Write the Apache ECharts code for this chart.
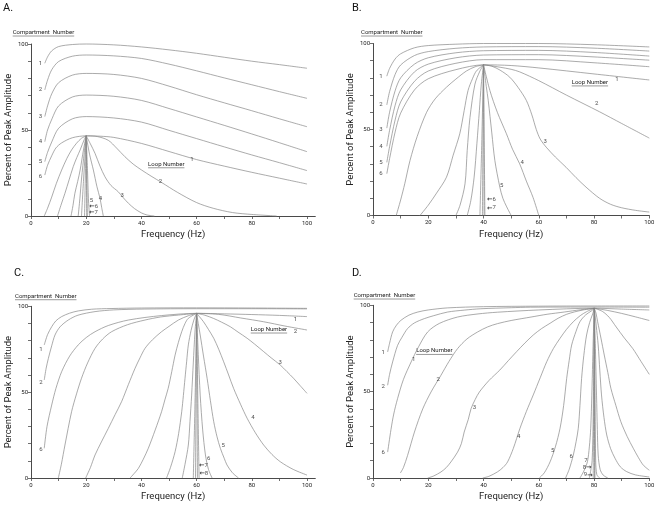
<!DOCTYPE html>
<html><head><meta charset="utf-8">
<script src="https://cdn.jsdelivr.net/npm/echarts@6/dist/echarts.min.js"></script>
<style>html,body{margin:0;padding:0;background:#fff}#c{width:662px;height:505px}</style>
</head><body><div id="c"></div>
<script>
// ---------- tick labels ----------
const xTickValues = [0,10,20,30,40,50,60,70,80,90,100];
const xLabelValues = [0,20,40,60,80,100];
const yLabelValues = [0,50,100];
const panelTitles = ['A.','B.','C.','D.'];

// ---------- Panel A (peak at 20 Hz) ----------
const compsA = [
 [[5,88.8],[6,92.5],[7.5,96],[10,98.5],[15,99.7],[20,100],[30,99.5],[40,98.3],[50,96.6],[60,94.6],[70,92.3],[80,90],[90,88],[100,85.9]],
 [[5,73.3],[6,79],[7.5,85],[10,89.8],[15,92.9],[20,93.6],[30,93.1],[40,91.6],[50,88.3],[60,84.4],[70,80.3],[80,76.3],[90,72.3],[100,68.4]],
 [[5,57.8],[6,64],[7.5,71],[10,77.5],[15,81.9],[20,82.9],[30,82.3],[40,80],[50,75.5],[60,70.5],[70,65.8],[80,61.2],[90,56.5],[100,51.9]],
 [[5,43.2],[6,50],[7.6,56.5],[10,64],[15,69.2],[20,70.3],[30,69.6],[40,67.2],[50,62.5],[60,57.6],[70,52.7],[80,47.7],[90,42.6],[100,37.4]],
 [[5,31.6],[6,37],[7.5,43],[10,51],[15,56.5],[20,57.8],[30,57],[40,54.6],[50,49.8],[60,45],[70,40.2],[80,35.5],[90,31],[100,26.4]]
];
const loop1A = [[5,23.8],[6,29.5],[7.5,35],[9,39.5],[11.1,42.5],[15,45.5],[20,46.6],[25,46.4],[30,45.7],[40,42.2],[50,37.5],[60,32.8],[70,29],[80,25.4],[90,22],[100,18.6]];
const loopsALeft = [
 [[4.8,0],[6,4.5],[7.5,11],[9.2,19],[11.1,26.7],[13,33.5],[14.7,38.4],[16.5,42.3],[18.3,45.2],[20,46.6]],
 [[9.6,0],[11,7],[12.3,13.2],[13.8,21],[15.3,28.7],[16.6,34],[17.8,38.4],[19.3,44.5],[20,46.6]],
 [[14.5,0],[15.2,6],[15.9,13.2],[16.9,20],[17.8,26.7],[19,38.4],[20,46.6]],
 [[17.1,0],[17.7,10],[18.3,21.5],[19.3,37],[20,46.6]],
 [[18.3,0],[19,20],[19.7,38],[20,46.6]],
 [[19.4,0],[20,46.6]]
];
const loopsARight = [
 [[20,46.6],[24,46.2],[28,44],[31,39.5],[34,34.5],[37,30.2],[40,26.8],[43.5,23.2],[47.3,19.5],[53,13.8],[60,7.8],[66,4.5],[73,2],[80,0.9],[89,0]],
 [[20,46.6],[21.5,42],[23.2,36.4],[25,29],[26.8,22.8],[29,17.7],[31.6,14.1],[33.5,10.5],[35.3,7.4],[37.5,4.3],[40,1.8],[42,0.6],[44.7,0]],
 [[20,46.6],[21.2,36],[22.6,26.7],[23.9,17],[25,10.3],[25.6,5],[26.2,0]],
 [[20,46.6],[20.5,25],[20.8,10],[21.2,0]],
 [[20,46.6],[20.4,0]],
 [[20,46.6],[20.2,0]]
];
const compLabelsA = [[3.4,88.8,'1'],[3.4,73.6,'2'],[3.4,57.8,'3'],[3.4,43.4,'4'],[3.4,31.8,'5'],[3.4,22.9,'6']];
const loopLabelsA = [[58.3,32.6,'1'],[46.9,20,'2'],[33,12.2,'3'],[25.2,9.9,'4'],[21.9,9.3,'5'],[22.7,5.4,'{a|←}6'],[22.6,2.3,'{a|←}7']];
const loopTitleA = [49, 30.2];

// ---------- Panel B (peak at 40 Hz) ----------
const compsB = [
 [[5,81],[6,85.5],[8,91],[10,94],[15,97.5],[20,98.8],[30,99.6],[40,100],[60,100],[80,99.3],[100,98]],
 [[5,64.3],[6,72],[8,82],[10,87.5],[15,93],[20,95.3],[30,97.2],[40,98],[60,98.2],[80,97.3],[100,95.6]],
 [[5,50.8],[6,60],[8,72.5],[10,80],[15,88],[20,91.7],[30,94.6],[40,95.8],[60,96],[80,94.8],[100,92.7]],
 [[5,40.2],[6,49.5],[8,64],[10,73],[15,83.5],[20,88],[30,91.7],[40,93.3],[60,93.5],[80,92.2],[100,90.3]],
 [[5,30.9],[6,40],[8,55.5],[10,66],[15,78],[20,84],[30,88.5],[40,90.6],[60,90.6],[80,88.8],[100,86.5]]
];
const loop1B = [[5,24.3],[6,33],[8,48.5],[10,59.5],[15,73],[20,79.5],[30,84.8],[40,87.6],[50,87.2],[60,85.8],[80,82.3],[100,78.8]];
const loopsBLeft = [
 [[8.4,0],[10,9],[11.5,18.5],[13.4,32],[16,46],[19.4,60],[22.5,67.8],[26.6,74.6],[30,79.3],[33.8,84],[37,86.5],[40,87.6]],
 [[17,0],[20,6],[23,13],[26.6,22.3],[29,35],[31.4,47.5],[33,61],[34.4,72.7],[36,79.5],[37.4,84],[40,87.6]],
 [[30,0],[31.5,6],[33.3,18.4],[34.1,37.8],[35.1,57],[36.9,76.4],[38.7,84],[40,87.6]],
 [[34.1,0],[35.4,8.6],[36.6,22.3],[37.6,41.7],[38.5,61],[39.2,76.4],[40,87.6]],
 [[38.7,0],[39.3,37.8],[40,87.6]],
 [[39.6,0],[40,87.6]]
];
const loopsBRight = [
 [[40,87.6],[43,87],[46,86.2],[50,85],[53.1,83.5],[60,78.4],[70,70],[82,60.3],[90,53.5],[100,45]],
 [[40,87.6],[43,86.8],[46,84.5],[49.5,80.4],[52.5,74.5],[55.5,66.9],[57.5,58.5],[59.1,50],[60.5,44.5],[62.7,39.7],[66,34],[69.9,28],[73.5,22],[77.1,16.5],[82,10],[86,6.5],[90,4.5],[95,3],[100,2]],
 [[40,87.6],[42.3,72.7],[45,60],[48.3,47.5],[50.5,38.5],[53.1,30],[55.5,20],[57.9,10.6],[60,0]],
 [[40,87.6],[41,75],[41.7,67],[43,48],[44.1,32],[45.9,16.5],[47,10],[48.4,5],[50,0]],
 [[40,87.6],[40.5,0]],
 [[40,87.6],[40.2,0]]
];
const compLabelsB = [[2.9,81,'1'],[2.9,64.3,'2'],[2.9,50.2,'3'],[2.9,40.2,'4'],[2.9,30.9,'5'],[2.9,24.3,'6']];
const loopLabelsB = [[88.3,78.8,'1'],[81,65.3,'2'],[62.3,43,'3'],[54,30.9,'4'],[46.6,17.6,'5'],[42.9,9.3,'{a|←}6'],[42.9,4.4,'{a|←}7']];
const loopTitleB = [78.5, 77.5];

// ---------- Panel C (peak at 60 Hz) ----------
const compsC = [
 [[4.8,77.5],[6,83.5],[7.5,88.1],[9,91.5],[11.1,94],[14,96],[17.1,97.3],[22,98.3],[29,98.7],[40,99],[60,99.1],[80,99],[100,98.8]],
 [[4.8,57.1],[5.5,64],[6.3,69.7],[7.5,77],[8.7,83.3],[10.5,88],[13.5,92],[17,94.8],[23.2,96.9],[30,97.9],[41,98.4],[60,98.6],[80,98.6],[100,98.5]]
];
const loop1C = [[4.8,17.3],[5.8,30],[7.5,42.5],[9,52],[11.1,61.9],[14,71],[17.1,77.5],[20,81.8],[23.2,85.2],[28,88.8],[35.3,92],[47.3,94.6],[60,95.9],[70,95.6],[80,95.2],[90,94.7],[100,94]];
const loopsCLeft = [
 [[9.9,0],[11,8],[12.3,19.2],[14.7,38.6],[16.5,49],[18.3,58.1],[20.5,67],[23.2,75.5],[26,81],[29.2,85.2],[35,89.3],[41.3,92],[47,93.8],[53.4,94.9],[60,95.9]],
 [[19.8,0],[21.5,6],[23.2,13.4],[25.5,21],[28,28.9],[30.5,37],[32.8,44.4],[35.3,54.5],[37.7,63.9],[39.5,70],[41.3,75.5],[44,80.5],[47.3,85.2],[50,88.3],[53.4,92],[57,94.5],[60,95.9]],
 [[35.9,0],[37.3,2.5],[38.9,5.6],[40.7,11],[42.5,17.3],[45,28],[47.3,38.6],[48.5,45.5],[49.7,52.2],[51,62],[52.2,71.6],[53.4,79],[54.6,85.2],[55.8,90],[57,93],[60,95.9]],
 [[49.1,0],[50.5,6],[52.2,15.3],[53.5,26],[54.6,38.6],[55.2,48],[55.8,58.1],[56.4,68],[57,77.5],[58,86],[59,92],[60,95.9]],
 [[54.8,0],[55.8,8],[57,19.2],[57.6,33],[58.2,48.3],[58.8,67],[59.4,85],[60,95.9]],
 [[58.8,0],[59.5,50],[60,95.9]],
 [[59.6,0],[60,95.9]]
];
const loopsCRight = [
 [[60,95.9],[68,95.3],[76,93.2],[84.3,91],[92,88.5],[100,86.2]],
 [[60,95.9],[63,94.8],[66.2,92.9],[69,90.8],[72.2,88.1],[75,85],[78.3,81.4],[81,78],[84.3,73.6],[87,70],[90.3,65.8],[92.7,62],[95.1,58.1],[97.5,53.8],[100,49.3]],
 [[60,95.9],[61,94],[62.5,91],[64.3,86.5],[66.2,81.4],[68,75],[69.8,67.7],[71.6,60],[73.4,52.2],[75.9,43],[78.3,34.8],[81.3,26.3],[84.3,19.2],[87.3,13.7],[90.3,9.5],[95,5],[100,1.7]],
 [[60,95.9],[60.6,90],[61.3,83.3],[62.5,71],[63.8,58.1],[65,45],[66.2,32.8],[67.4,24],[68.6,17.3],[70,11.5],[71,7.6],[73,3],[75.2,0]],
 [[60,95.9],[60.6,72],[61.3,48.3],[62.2,28],[63.2,13.4],[64.3,5],[65.6,0]],
 [[60,95.9],[60.5,40],[60.9,0]],
 [[60,95.9],[60.3,0]]
];
const compLabelsC = [[3.6,74.8,'1'],[3.6,55.9,'2'],[3.6,16.7,'6']];
const loopLabelsC = [[95.8,92.3,'1'],[95.8,85.3,'2'],[90.3,67.1,'3'],[80.4,35.4,'4'],[69.6,19.2,'5'],[64.4,11.1,'6'],[62.5,7.2,'{a|←}7'],[62.6,2.5,'{a|←}8']];
const loopTitleC = [86.2, 86.6];

// ---------- Panel D (peak at 80 Hz) ----------
const compsD = [
 [[5.3,73],[6,78],[7.1,84.6],[8.5,88.5],[10.1,91.3],[13,94.3],[16.2,96.1],[20,97.3],[27,98.5],[40,99.2],[60,99.5],[80,99.6],[100,99.6]],
 [[5.3,53.7],[6,60],[7.1,67.2],[8.9,76.8],[10.5,81.5],[12.5,86.5],[15,89.8],[18.6,92.3],[22,94],[27,96.1],[33,97.2],[39,98],[50,98.6],[57,98.9],[80,99],[100,98.9]]
];
const loop1D = [[5.3,15],[6.5,28],[7.5,37],[8.9,46],[11,57],[13.8,67.2],[16.5,76],[19.8,84.6],[24,89.5],[30.6,93.2],[38,95],[45,96],[60,97.3],[80.1,98.3],[90,97.8],[100,97.3]];
const loopsDLeft = [
 [[9.9,2.9],[11,6],[12.5,13],[15,26.6],[18,40],[21,49.8],[24.6,59.5],[27.5,67.5],[30.6,74.9],[34,80.5],[37.9,84.6],[41.5,87.5],[45.1,89.4],[50,91.2],[57.2,93.2],[63,94.8],[69.2,96.1],[75,97.4],[80.1,98.3]],
 [[19.8,0],[22,1.2],[24.6,3.5],[26.5,6],[28.2,9.3],[30.6,15],[32,20],[33,26.6],[34.5,34],[35.5,40.2],[37,45.5],[38.5,49.8],[42,56.5],[45.9,62.5],[49,68],[52,73.2],[55,78.2],[58,82.8],[61,86.5],[64.1,89.6],[67,92.5],[70.1,94.8],[73,96.2],[76.1,97.3],[80.1,98.3]],
 [[39.7,0],[42,1],[45,3.5],[47,6],[48.7,9.3],[50.8,17.2],[53.2,28.8],[55.5,38.5],[58,48.1],[60.5,58],[62.9,67.4],[65.3,75],[67.7,80.9],[70,86],[72.5,90.5],[75,94],[77.3,96.3],[80.1,98.3]],
 [[60.2,0],[62,3],[64.1,9.4],[66,18],[67.7,28.8],[69,42],[70.1,57.7],[71,68],[71.9,77],[73.5,85],[74.9,90.5],[77,94.5],[79.3,97],[80.1,98.3]],
 [[69.7,0],[71,5],[72.5,13.3],[73.5,21],[74.3,28.8],[74.9,42],[75.5,57.7],[76.3,71],[77.3,82.8],[78.4,90],[79.5,95],[80.1,98.3]],
 [[74.9,0],[76.3,4],[77.6,9.4],[78.3,18],[78.8,28.8],[79.2,48],[79.5,67.4],[79.8,85],[80.1,98.3]],
 [[78.3,0],[79.3,10],[79.8,50],[80.1,98.3]],
 [[79.7,0],[80.1,98.3]]
];
const loopsDRight = [
 [[80.1,98.3],[85,97],[90,95.3],[95,93.3],[100,91.2]],
 [[80.1,98.3],[83,96.5],[85.5,93],[88,87.5],[91,81],[94,75],[97,67.5],[100,60]],
 [[80.1,98.3],[80.7,95.5],[81.3,90.5],[82.5,81],[83.7,71.2],[85,61],[86.1,51.9],[87.9,42],[89.7,32.6],[92,24],[94.2,17.2],[96,12],[97.8,7.5],[100,4.5]],
 [[80.1,98.3],[80.8,88],[81.5,77],[82.1,62],[82.7,48.1],[83.6,35],[84.6,24.9],[86,17],[87.6,11.4],[89.5,6.5],[91.8,3.7],[95,1.8],[100,0.6]],
 [[80.1,98.3],[80.5,75],[80.9,48],[81.2,28],[81.5,13.3],[82.2,5],[83.3,1.7],[85,0]],
 [[80.1,98.3],[80.4,40],[80.6,10],[81,2],[82,0]],
 [[80.1,98.3],[80.3,0]],
 [[80.1,98.3],[80.2,0]]
];
const compLabelsD = [[3.7,72.6,'1'],[3.7,53.1,'2'],[3.7,14.5,'6']];
const loopLabelsD = [[14.7,68.7,'1'],[23.6,56.9,'2'],[36.7,41,'3'],[52.7,24.1,'4'],[65,15.8,'5'],[71.7,12.4,'6'],[77.1,10.2,'7'],[77.5,6.3,'8{a|→}'],[77.9,1.8,'9{a|→}']];
const loopTitleD = [22.2, 73.7];

// ---------- layout (pixels) ----------
const FONT = 'Roboto, "Liberation Sans", sans-serif';
const layout = [
 {grid:{left:31, top:44, width:284.3, height:172}, xMax:103, title:[3,3], comp:[12.7,32.3]},
 {grid:{left:373, top:43.5, width:276.3, height:172}, xMax:100, title:[352,3], comp:[361,32.3]},
 {grid:{left:31, top:306.3, width:284.3, height:171.7}, xMax:103, title:[14,268], comp:[15,296]},
 {grid:{left:373, top:305.3, width:276.3, height:172.7}, xMax:100, title:[352,268], comp:[353.7,295.3]}
];
const panels = [
 {comps:compsA, loop1:loop1A, left:loopsALeft, right:loopsARight, compLabels:compLabelsA, loopLabels:loopLabelsA, loopTitle:loopTitleA},
 {comps:compsB, loop1:loop1B, left:loopsBLeft, right:loopsBRight, compLabels:compLabelsB, loopLabels:loopLabelsB, loopTitle:loopTitleB},
 {comps:compsC, loop1:loop1C, left:loopsCLeft, right:loopsCRight, compLabels:compLabelsC, loopLabels:loopLabelsC, loopTitle:loopTitleC},
 {comps:compsD, loop1:loop1D, left:loopsDLeft, right:loopsDRight, compLabels:compLabelsD, loopLabels:loopLabelsD, loopTitle:loopTitleD}
];

const CURVE = '#868686', AXIS = '#4a4a4a', TEXT = '#222';
const grids = [], xAxes = [], yAxes = [], series = [];
panels.forEach((p, i) => {
  const L = layout[i];
  grids.push(Object.assign({containLabel:false}, L.grid));
  xAxes.push({
    type:'value', gridIndex:i, min:0, max:L.xMax, interval:10,
    name:'Frequency (Hz)', nameLocation:'middle', nameGap:14,
    nameTextStyle:{fontSize:9.5, color:TEXT, fontFamily:FONT},
    axisLine:{show:true, onZero:false, lineStyle:{color:AXIS, width:1}},
    axisTick:{show:true, length:3, customValues:xTickValues, lineStyle:{color:AXIS, width:0.8}},
    axisLabel:{show:true, customValues:xLabelValues, fontSize:6, color:TEXT, margin:4, fontFamily:FONT,
      formatter: v => (xLabelValues.indexOf(v) >= 0 ? String(v) : '')},
    splitLine:{show:false}
  });
  yAxes.push({
    type:'value', gridIndex:i, min:0, max:100, interval:10,
    name:'Percent of Peak Amplitude', nameLocation:'middle', nameGap:17, nameRotate:90,
    nameTextStyle:{fontSize:9.5, color:TEXT, fontFamily:FONT},
    axisLine:{show:true, lineStyle:{color:AXIS, width:1}},
    axisTick:{show:true, length:3, lineStyle:{color:AXIS, width:0.8}},
    axisLabel:{show:true, fontSize:6, color:TEXT, margin:3, fontFamily:FONT,
      formatter: v => (yLabelValues.indexOf(v) >= 0 ? String(v) : '')},
    splitLine:{show:false}
  });
  const line = (data) => ({type:'line', xAxisIndex:i, yAxisIndex:i, data:data, smooth:0.3,
    symbol:'none', silent:true, animation:false, clip:false,
    lineStyle:{color:CURVE, width:0.7}});
  p.comps.forEach(d => series.push(line(d)));
  series.push(line(p.loop1));
  p.left.forEach(d => series.push(line(d)));
  p.right.forEach(d => series.push(line(d)));
  const lab = p.compLabels.concat(p.loopLabels);
  series.push({type:'scatter', xAxisIndex:i, yAxisIndex:i, symbolSize:1, silent:true, animation:false,
    itemStyle:{color:'rgba(0,0,0,0)'},
    data: lab.map(l => ({value:[l[0], l[1]], name:l[2]})),
    label:{show:true, position:'inside', formatter:'{b}', fontSize:6, color:TEXT, fontFamily:FONT,
      rich:{a:{fontFamily:'"DejaVu Sans", sans-serif', fontSize:6.5, fontWeight:'bold', color:'#111'}}}, z:5});
});

const chart = echarts.init(document.getElementById('c'), null, {renderer:'canvas'});
chart.setOption({animation:false, backgroundColor:'#fff', grid:grids, xAxis:xAxes, yAxis:yAxes, series:series});

// underlined annotation texts
const ctx = document.createElement('canvas').getContext('2d');
function textW(t, size){ ctx.font = size + 'px ' + FONT; return ctx.measureText(t).width; }
function underlined(x, cy, text, size, alignCenter){
  const w = textW(text, size);
  const x0 = alignCenter ? x - w/2 : x;
  return [
    {type:'text', silent:true, style:{x:x0, y:cy, text:text, fontSize:size, fontFamily:FONT, fill:TEXT, verticalAlign:'middle', align:'left'}},
    {type:'line', silent:true, shape:{x1:x0, y1:cy+size*0.62, x2:x0+w, y2:cy+size*0.62}, style:{stroke:'#555', lineWidth:0.6}}
  ];
}
let graphics = [];
panels.forEach((p, i) => {
  const L = layout[i];
  graphics.push({type:'text', silent:true, style:{x:L.title[0], y:L.title[1], text:panelTitles[i], fontSize:11, fontFamily:FONT, fill:'#111', verticalAlign:'top'}});
  graphics = graphics.concat(underlined(L.comp[0], L.comp[1], 'Compartment  Number', 6, false));
  const pt = chart.convertToPixel({gridIndex:i}, p.loopTitle);
  graphics = graphics.concat(underlined(pt[0], pt[1], 'Loop Number', 6, true));
});
chart.setOption({graphic:graphics});
</script></body></html>
